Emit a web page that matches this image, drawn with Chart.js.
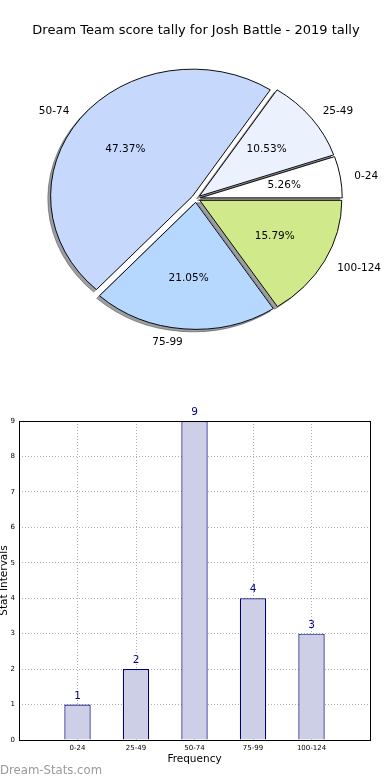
<!DOCTYPE html>
<html>
<head>
<meta charset="utf-8">
<script src="https://cdn.jsdelivr.net/npm/chart.js@4.4.1/dist/chart.umd.min.js"></script>
<style>
    html, body { margin: 0; padding: 0; background: #fff; }
    body { width: 390px; height: 780px; position: relative; overflow: hidden; font-family: 'DejaVu Sans', sans-serif; }
    #pieBox { position: absolute; left: 0; top: 0; width: 390px; height: 370px; }
    #barBox { position: absolute; left: 0; top: 380px; width: 390px; height: 400px; }
    #mark { position: absolute; left: 0; top: 762px; font-size: 11.7px; color: #9a9a9a; line-height: 16px; }
</style>
</head>
<body>
<div id="pieBox"><canvas id="pieChart"></canvas></div>
<div id="barBox"><canvas id="barChart"></canvas></div>
<div id="mark">Dream-Stats.com</div>
<script>
// Data
const chartTitle = 'Dream Team score tally for Josh Battle - 2019 tally';
const categories = ['0-24', '25-49', '50-74', '75-99', '100-124'];
const counts = [1, 2, 9, 4, 3];
const yMax = 9;

// Styles
const sliceColors = ['#ffffff', '#ebf2fe', '#c6d9fd', '#b6d7fe', '#d0ea8b'];
const FONT = 'DejaVu Sans';
const explodePx = 4.3;     // slice pull-out
const squash = 127 / 142;  // pie is an ellipse in the original
const shadowColor = 'rgba(60, 62, 70, 0.5)';

// matplotlib goes counter-clockwise from 3 o'clock, Chart.js clockwise -> reverse
const pieLabels = categories.slice().reverse();
const pieValues = counts.slice().reverse();
const pieFill = sliceColors.slice().reverse();
const total = counts.reduce((a, b) => a + b, 0);

const pieShape = {
    id: 'pieShape',
    beforeDatasetsDraw(chart) {
        const ctx = chart.ctx;
        const arcs = chart.getDatasetMeta(0).data;

        const drawArcs = (dx, dy, shadow) => {
            arcs.forEach(arc => {
                const mid = (arc.startAngle + arc.endAngle) / 2;
                ctx.save();
                ctx.translate(dx, dy);
                ctx.translate(arc.x, arc.y);
                ctx.scale(1, squash);
                ctx.translate(-arc.x, -arc.y);
                ctx.translate(Math.cos(mid) * explodePx, Math.sin(mid) * explodePx);
                const opts = arc.options;
                if (shadow) {
                    arc.options = Object.assign({}, opts, { backgroundColor: shadowColor, borderColor: shadowColor });
                }
                arc.draw(ctx);
                arc.options = opts;
                ctx.restore();
            });
        };

        drawArcs(-2.8, 2.5, true);
        drawArcs(0, 0, false);
        return false;
    },
    afterDraw(chart) {
        const ctx = chart.ctx;
        const arcs = chart.getDatasetMeta(0).data;
        ctx.save();
        ctx.font = `10.5px "${FONT}"`;
        ctx.fillStyle = '#000';
        ctx.textBaseline = 'middle';
        arcs.forEach((arc, i) => {
            const mid = (arc.startAngle + arc.endAngle) / 2;
            const c = Math.cos(mid), s = Math.sin(mid);
            const r = arc.outerRadius;
            const at = f => [arc.x + (explodePx + f * r) * c, arc.y + (explodePx + f * r) * s * squash];

            let [x, y] = at(1.1);
            ctx.textAlign = c >= 0 ? 'left' : 'right';
            ctx.fillText(pieLabels[i], x, y + 1);

            [x, y] = at(0.6);
            ctx.textAlign = 'center';
            ctx.fillText((pieValues[i] / total * 100).toFixed(2) + '%', x, y);
        });
        ctx.restore();
    }
};

new Chart(document.getElementById('pieChart'), {
    type: 'pie',
    data: {
        labels: pieLabels,
        datasets: [{
            data: pieValues,
            backgroundColor: pieFill,
            borderColor: '#000',
            borderWidth: 1
        }]
    },
    options: {
        responsive: true,
        maintainAspectRatio: false,
        animation: false,
        rotation: 90,
        radius: 142,
        layout: { padding: { left: 2, right: 0, top: 0, bottom: 23 } },
        plugins: {
            legend: { display: false },
            tooltip: { enabled: false },
            title: {
                display: true,
                text: chartTitle,
                color: '#000',
                font: { family: FONT, size: 13, weight: 'normal' },
                padding: { top: 23, bottom: 11.4 }
            }
        }
    },
    plugins: [pieShape]
});

// Bar chart: empty slots at both ends, like the original axis
const barLabels = ['', ...categories, ''];
const barValues = [null, ...counts, null];

const barExtras = {
    id: 'barExtras',
    afterDraw(chart) {
        const ctx = chart.ctx;
        const { left, right, top, bottom } = chart.chartArea;
        ctx.save();
        ctx.strokeStyle = '#000';
        ctx.lineWidth = 1;
        ctx.strokeRect(Math.round(left) + 0.5, Math.round(top) + 0.5, Math.round(right - left), Math.round(bottom - top));

        ctx.font = `10.5px "${FONT}"`;
        ctx.fillStyle = '#00008b';
        ctx.textAlign = 'center';
        ctx.textBaseline = 'middle';
        chart.getDatasetMeta(0).data.forEach((bar, i) => {
            if (barValues[i] == null) return;
            ctx.fillText(String(barValues[i]), bar.x, bar.y - 8.5);
        });
        ctx.restore();
    }
};

new Chart(document.getElementById('barChart'), {
    type: 'bar',
    data: {
        labels: barLabels,
        datasets: [{
            data: barValues,
            backgroundColor: '#cdcfe6',
            borderColor: '#00007a',
            borderWidth: 1.2,
            categoryPercentage: 1,
            barPercentage: 0.45
        }]
    },
    options: {
        responsive: true,
        maintainAspectRatio: false,
        animation: false,
        layout: { padding: { top: 41, right: 20, left: 0, bottom: 0 } },
        plugins: {
            legend: { display: false },
            tooltip: { enabled: false }
        },
        scales: {
            x: {
                offset: false,
                z: 1,
                grid: { offset: false, color: '#b0b0b0', lineWidth: 1, drawTicks: false },
                border: { display: false, dash: [1, 2] },
                ticks: {
                    autoSkip: false, maxRotation: 0, padding: 4, color: '#000',
                    font: { family: FONT, size: 7 }
                },
                title: {
                    display: true, text: 'Frequency', color: '#000',
                    font: { family: FONT, size: 10.5 },
                    padding: { top: 0, bottom: 14 }
                },
                afterFit(scale) { scale.height = 40; }
            },
            y: {
                min: 0,
                max: yMax,
                z: 1,
                grid: { color: '#b0b0b0', lineWidth: 1, drawTicks: false },
                border: { display: false, dash: [1, 2] },
                ticks: {
                    stepSize: 1, padding: 4, color: '#000',
                    font: { family: FONT, size: 7 }
                },
                title: {
                    display: true, text: 'Stat Intervals', color: '#000',
                    font: { family: FONT, size: 10.5, lineHeight: 0.8 },
                    padding: 0
                },
                afterFit(scale) { scale.width = 19; }
            }
        }
    },
    plugins: [barExtras]
});
</script>
</body>
</html>
